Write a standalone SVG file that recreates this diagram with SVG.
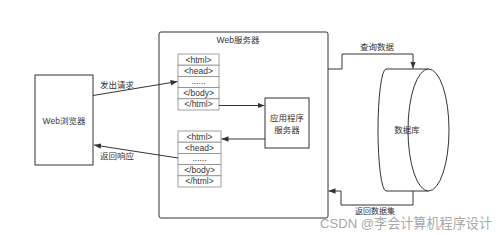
<svg xmlns="http://www.w3.org/2000/svg" width="500" height="235" viewBox="0 0 500 235">
<style>
.box{fill:#fff;stroke:#333;stroke-width:1}
.cell{fill:#fff;stroke:#888;stroke-width:0.8}
.t{font-family:"Liberation Sans","Noto Sans CJK SC",sans-serif;font-size:8.5px;fill:#333;text-anchor:middle;dominant-baseline:central}
.ln{fill:none;stroke:#333;stroke-width:1}
</style>
<defs>
<marker id="ah" viewBox="0 0 10 10" refX="10" refY="5" markerWidth="7" markerHeight="7" markerUnits="userSpaceOnUse" orient="auto">
<path d="M0,1 L10,5 L0,9 z" fill="#333"/>
</marker>
</defs>
<rect width="500" height="235" fill="#fff"/>
<g id="web-server">
<rect class="box" x="159" y="32" width="169" height="186" rx="2"/>
<text class="t" x="238" y="40">Web服务器</text>
</g>
<g id="browser">
<rect class="box" x="35" y="75" width="58" height="90"/>
<text class="t" x="64" y="121">Web浏览器</text>
</g>
<g id="html-top">
<rect class="cell" x="178" y="54" width="41" height="11.2"/>
<rect class="cell" x="178" y="65.2" width="41" height="11.2"/>
<rect class="cell" x="178" y="76.4" width="41" height="11.2"/>
<rect class="cell" x="178" y="87.6" width="41" height="11.2"/>
<rect class="cell" x="178" y="98.8" width="41" height="11.2"/>
<text class="t" x="198.5" y="59.6">&lt;html&gt;</text>
<text class="t" x="198.5" y="70.8">&lt;head&gt;</text>
<text class="t" x="198.5" y="81">......</text>
<text class="t" x="198.5" y="93.2">&lt;/body&gt;</text>
<text class="t" x="198.5" y="104.4">&lt;/html&gt;</text>
</g>
<g id="html-bottom">
<rect class="cell" x="178" y="131" width="43" height="11.2"/>
<rect class="cell" x="178" y="142.2" width="43" height="11.2"/>
<rect class="cell" x="178" y="153.4" width="43" height="11.2"/>
<rect class="cell" x="178" y="164.6" width="43" height="11.2"/>
<rect class="cell" x="178" y="175.8" width="43" height="11.2"/>
<text class="t" x="199.5" y="136.6">&lt;html&gt;</text>
<text class="t" x="199.5" y="147.8">&lt;head&gt;</text>
<text class="t" x="199.5" y="158">......</text>
<text class="t" x="199.5" y="170.2">&lt;/body&gt;</text>
<text class="t" x="199.5" y="181.4">&lt;/html&gt;</text>
</g>
<g id="app-server">
<rect class="box" x="265" y="98" width="44" height="50"/>
<text class="t" x="287" y="118">应用程序</text>
<text class="t" x="287" y="130">服务器</text>
</g>
<g id="database">
<path class="box" d="M429,69 L386,69 A8,61 0 0 0 386,191 L429,191"/>
<ellipse class="box" cx="428.5" cy="130" rx="20.5" ry="61"/>
<text class="t" x="407" y="130">数据库</text>
</g>
<g id="connectors">
<line class="ln" x1="93" y1="95.5" x2="177.5" y2="81.5" marker-end="url(#ah)"/>
<text class="t" x="117" y="85">发出请求</text>
<line class="ln" x1="219" y1="105.5" x2="264.5" y2="105.5" marker-end="url(#ah)"/>
<line class="ln" x1="265" y1="139" x2="221.5" y2="139" marker-end="url(#ah)"/>
<line class="ln" x1="178" y1="158" x2="94" y2="145" marker-end="url(#ah)"/>
<text class="t" x="117" y="156">返回响应</text>
<polyline class="ln" points="328,69 342,69 342,54 413,54 413,68.5" marker-end="url(#ah)"/>
<text class="t" x="377" y="47">查询数据</text>
<polyline class="ln" points="413,191 413,205 341,205 341,191 328.5,191" marker-end="url(#ah)"/>
<text class="t" x="375" y="211" style="font-size:8px">返回数据集</text>
</g>
<text x="320" y="228" textLength="172" lengthAdjust="spacingAndGlyphs" style="font-family:'Liberation Sans','Noto Sans CJK SC',sans-serif;font-size:13.5px;fill:#a8a8a8">CSDN @李会计算机程序设计</text>
</svg>
